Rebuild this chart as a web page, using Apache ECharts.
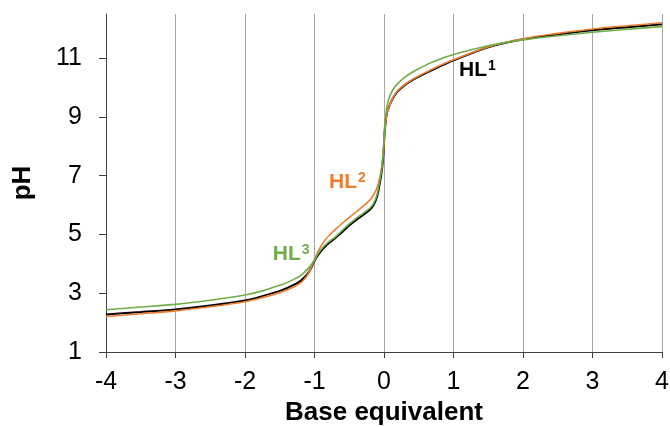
<!DOCTYPE html>
<html>
<head>
<meta charset="utf-8">
<script src="https://cdn.jsdelivr.net/npm/echarts@6/dist/echarts.min.js"></script>
<style>
html,body{margin:0;padding:0;background:#fff;}
#chart{width:670px;height:427px;}
</style>
</head>
<body>
<div id="chart"></div>
<script>
// Base equivalent (x)
const baseEq = [-4, -3.5, -3, -2.5, -2, -1.75, -1.5, -1.4, -1.3, -1.2, -1.15, -1.1, -1.05, -1, -0.95, -0.9, -0.85, -0.8, -0.7, -0.6, -0.5, -0.4, -0.3, -0.2, -0.15, -0.1, -0.06, -0.03, -0.01, 0, 0.01, 0.03, 0.05, 0.1, 0.15, 0.2, 0.3, 0.4, 0.5, 0.7, 1, 1.5, 2, 2.5, 3, 3.5, 4];
// pH values
const pH_HL1 = [2.28, 2.36, 2.45, 2.58, 2.75, 2.90, 3.08, 3.17, 3.28, 3.42, 3.53, 3.66, 3.85, 4.10, 4.29, 4.45, 4.58, 4.69, 4.88, 5.08, 5.30, 5.49, 5.66, 5.85, 6.00, 6.28, 6.75, 7.20, 7.70, 8.10, 8.50, 8.95, 9.20, 9.50, 9.72, 9.88, 10.08, 10.24, 10.37, 10.60, 10.92, 11.37, 11.64, 11.81, 11.95, 12.05, 12.15];
const pH_HL2 = [2.21, 2.30, 2.40, 2.54, 2.71, 2.85, 3.02, 3.11, 3.21, 3.35, 3.47, 3.62, 3.86, 4.15, 4.42, 4.63, 4.80, 4.94, 5.17, 5.38, 5.58, 5.77, 5.96, 6.18, 6.35, 6.60, 6.95, 7.35, 7.80, 8.10, 8.50, 8.95, 9.20, 9.50, 9.74, 9.90, 10.10, 10.26, 10.39, 10.63, 10.94, 11.38, 11.66, 11.84, 11.99, 12.10, 12.20];
const pH_HL3 = [2.44, 2.53, 2.62, 2.76, 2.94, 3.08, 3.27, 3.36, 3.47, 3.60, 3.70, 3.82, 3.96, 4.13, 4.34, 4.50, 4.63, 4.74, 4.92, 5.14, 5.36, 5.55, 5.72, 5.90, 6.06, 6.35, 6.85, 7.30, 7.80, 8.20, 8.70, 9.15, 9.45, 9.80, 10.00, 10.14, 10.35, 10.51, 10.64, 10.87, 11.12, 11.42, 11.62, 11.76, 11.88, 11.98, 12.07];
// tick labels
const xTicks = [-4, -3, -2, -1, 0, 1, 2, 3, 4];
const yTicks = [1, 3, 5, 7, 9, 11];
// annotation labels: base text, superscript, position [x, y]
const labelBase = ['HL', 'HL', 'HL'];
const labelSup = ['1', '2', '3'];
const labelAt = [[1.08, 10.59], [-0.79, 6.78], [-1.60, 4.33]];

const colors = ['#000000', '#ED7D31', '#70AD47'];
const pair = (ys) => baseEq.map((x, i) => [x, ys[i]]);
const FONT = '"Liberation Sans", Arial, sans-serif';

const chart = echarts.init(document.getElementById('chart'));
const seriesData = [pH_HL1, pH_HL2, pH_HL3];
chart.setOption({
  animation: false,
  backgroundColor: '#ffffff',
  grid: {left: 106, right: 8, top: 14, bottom: 75, containLabel: false, outerBoundsMode: 'none'},
  xAxis: {
    type: 'value', min: -4, max: 4, interval: 1,
    name: 'Base equivalent', nameLocation: 'middle', nameGap: 48,
    nameTextStyle: {fontFamily: FONT, fontSize: 26, fontWeight: 'bold', color: '#000'},
    axisLine: {onZero: false, lineStyle: {color: '#404040', width: 1}},
    axisTick: {show: true, length: 6, inside: false, lineStyle: {color: '#404040'}},
    axisLabel: {fontFamily: FONT, fontSize: 25, color: '#000', margin: 18,
      customValues: xTicks, formatter: v => String(v)},
    splitLine: {show: true, lineStyle: {color: '#a6a6a6', width: 1}}
  },
  yAxis: {
    type: 'value', min: 1, max: 12.5,
    name: 'pH', nameLocation: 'middle', nameGap: 70, nameRotate: 90,
    nameTextStyle: {fontFamily: FONT, fontSize: 26, fontWeight: 'bold', color: '#000'},
    axisLine: {show: true, onZero: false, lineStyle: {color: '#404040', width: 1}},
    axisTick: {show: true, length: 7, lineStyle: {color: '#404040'}, customValues: yTicks},
    axisLabel: {fontFamily: FONT, fontSize: 25, color: '#000', margin: 24, customValues: yTicks},
    splitLine: {show: false}
  },
  series: seriesData.map((ys, i) => ({
    type: 'line',
    name: labelBase[i] + labelSup[i],
    data: pair(ys),
    showSymbol: false,
    smooth: 0.3,
    lineStyle: {color: colors[i], width: i === 0 ? 2 : 1.6},
    z: 2 + i
  }))
});

const graphics = labelBase.map((t, i) => {
  const p = chart.convertToPixel({gridIndex: 0}, labelAt[i]);
  return {
    type: 'text', x: p[0], y: p[1], z: 10,
    style: {
      text: '{a|' + t + '}{b|' + labelSup[i] + '}',
      textVerticalAlign: 'middle', textAlign: 'left',
      rich: {
        a: {fontFamily: FONT, fontSize: 21, fontWeight: 'bold', fill: colors[i], lineHeight: 22},
        b: {fontFamily: FONT, fontSize: 14, fontWeight: 'bold', fill: colors[i], verticalAlign: 'top', lineHeight: 14, padding: [0, 0, 0, 1]}
      }
    }
  };
});
chart.setOption({graphic: graphics});
</script>
</body>
</html>
